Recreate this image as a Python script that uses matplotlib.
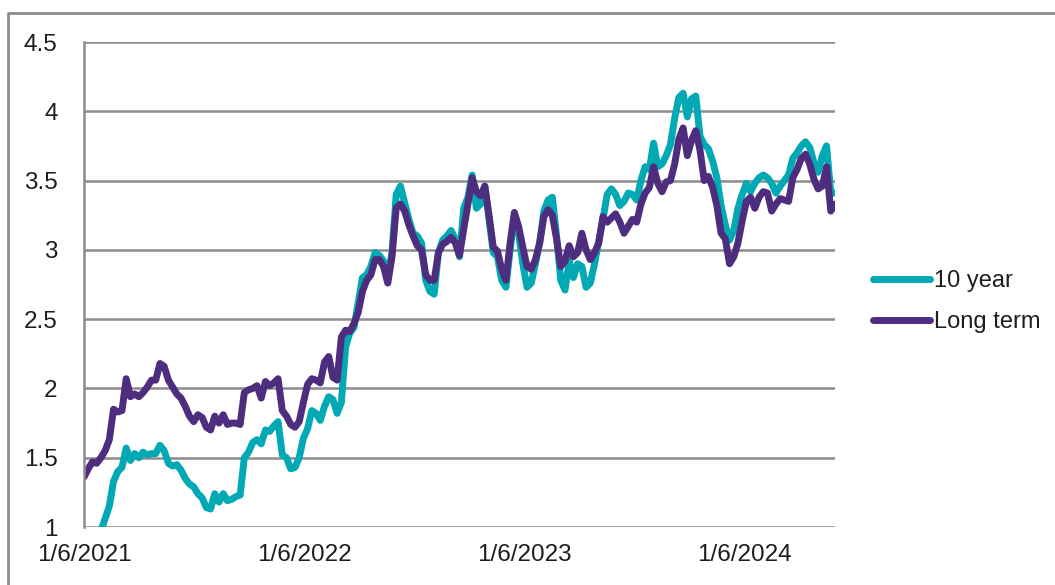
import pandas as pd
import matplotlib
matplotlib.use("Agg")
import matplotlib.pyplot as plt
from matplotlib.lines import Line2D

# weekly observations starting 6 Jan 2021
start_date = "2021-01-06"

ten_year = [
    0.72, 0.78, 0.85, 0.90, 0.97, 1.06, 1.15, 1.33, 1.40, 1.43,
    1.57, 1.48, 1.53, 1.50, 1.54, 1.52, 1.53, 1.53, 1.59, 1.55,
    1.46, 1.44, 1.45, 1.41, 1.35, 1.31, 1.29, 1.24, 1.21, 1.14,
    1.13, 1.24, 1.18, 1.24, 1.19, 1.20, 1.22, 1.23, 1.50, 1.54,
    1.61, 1.63, 1.60, 1.70, 1.69, 1.73, 1.76, 1.52, 1.50, 1.42,
    1.43, 1.50, 1.64, 1.71, 1.84, 1.82, 1.77, 1.87, 1.94, 1.92,
    1.82, 1.90, 2.30, 2.40, 2.44, 2.62, 2.80, 2.82, 2.88, 2.98,
    2.96, 2.92, 2.80, 2.98, 3.40, 3.46, 3.34, 3.22, 3.12, 3.10,
    3.05, 2.78, 2.70, 2.68, 2.98, 3.07, 3.10, 3.14, 3.08, 2.95,
    3.30, 3.38, 3.54, 3.30, 3.33, 3.46, 3.22, 2.98, 2.95, 2.78,
    2.73, 3.00, 3.25, 3.12, 2.90, 2.73, 2.76, 2.90, 3.05, 3.28,
    3.36, 3.38, 3.10, 2.78, 2.71, 2.92, 2.80, 2.90, 2.88, 2.73,
    2.76, 2.90, 3.06, 3.22, 3.40, 3.44, 3.40, 3.32, 3.35, 3.41,
    3.40, 3.36, 3.50, 3.60, 3.58, 3.77, 3.60, 3.62, 3.68, 3.76,
    3.95, 4.10, 4.13, 3.96, 4.09, 4.11, 3.82, 3.76, 3.73, 3.64,
    3.52, 3.32, 3.18, 3.07, 3.14, 3.30, 3.40, 3.48, 3.42, 3.48,
    3.52, 3.54, 3.52, 3.48, 3.41, 3.46, 3.50, 3.54, 3.66, 3.70,
    3.75, 3.78, 3.74, 3.63, 3.56, 3.68, 3.75, 3.41, 3.41,
]

long_term = [
    1.36, 1.42, 1.47, 1.46, 1.50, 1.55, 1.63, 1.85, 1.83, 1.84,
    2.07, 1.94, 1.96, 1.94, 1.97, 2.01, 2.06, 2.06, 2.18, 2.16,
    2.06, 2.01, 1.96, 1.93, 1.87, 1.80, 1.76, 1.81, 1.79, 1.72,
    1.70, 1.80, 1.75, 1.81, 1.74, 1.75, 1.75, 1.74, 1.97, 1.99,
    2.00, 2.02, 1.93, 2.05, 2.02, 2.04, 2.07, 1.84, 1.80, 1.74,
    1.72, 1.76, 1.90, 2.03, 2.07, 2.06, 2.04, 2.19, 2.23, 2.08,
    2.06, 2.37, 2.42, 2.41, 2.47, 2.55, 2.70, 2.78, 2.82, 2.93,
    2.93, 2.88, 2.76, 2.95, 3.30, 3.33, 3.28, 3.18, 3.10, 3.03,
    3.00, 2.82, 2.78, 2.78, 2.98, 3.04, 3.06, 3.09, 3.05, 2.96,
    3.15, 3.33, 3.52, 3.42, 3.39, 3.46, 3.25, 3.02, 2.99, 2.86,
    2.78, 3.05, 3.27, 3.17, 3.02, 2.88, 2.86, 2.93, 3.05, 3.24,
    3.29, 3.25, 3.08, 2.88, 2.92, 3.03, 2.95, 2.98, 3.12, 3.00,
    2.93, 2.98, 3.05, 3.24, 3.20, 3.23, 3.26, 3.20, 3.12, 3.17,
    3.22, 3.20, 3.33, 3.41, 3.45, 3.60, 3.48, 3.42, 3.49, 3.50,
    3.62, 3.80, 3.88, 3.68, 3.79, 3.86, 3.72, 3.50, 3.53, 3.45,
    3.32, 3.12, 3.08, 2.90, 2.95, 3.05, 3.21, 3.35, 3.38, 3.30,
    3.38, 3.42, 3.41, 3.28, 3.33, 3.37, 3.36, 3.35, 3.52, 3.58,
    3.66, 3.69, 3.62, 3.51, 3.44, 3.46, 3.60, 3.28, 3.33,
]

xtick_labels = ["1/6/2021", "1/6/2022", "1/6/2023", "1/6/2024"]
yticks = [1, 1.5, 2, 2.5, 3, 3.5, 4, 4.5]
ytick_labels = ["1", "1.5", "2", "2.5", "3", "3.5", "4", "4.5"]

teal = "#00A9B4"
purple = "#4E2D7F"
grid_grey = "#8C8C8C"
text_col = "#1E1E1E"

plt.rcParams["font.family"] = ["Liberation Sans", "DejaVu Sans"]

dates = pd.date_range(start_date, periods=len(ten_year), freq="7D")

fig = plt.figure(figsize=(10.55, 5.85), dpi=100)
ax = fig.add_axes([84 / 1055, 1 - 527 / 585, (835 - 84) / 1055, (527 - 42) / 585])

ax.plot(dates, ten_year, color=teal, lw=5, label="10 year",
        solid_joinstyle="round", solid_capstyle="round")
ax.plot(dates, long_term, color=purple, lw=5, label="Long term",
        solid_joinstyle="round", solid_capstyle="round")

ax.set_ylim(1, 4.5)
ax.set_xlim(pd.Timestamp(start_date), dates[-1])
ax.set_yticks(yticks)
ax.set_yticklabels(ytick_labels)
ax.set_xticks(pd.to_datetime(xtick_labels, format="%m/%d/%Y"))
ax.set_xticklabels(xtick_labels)

ax.grid(axis="y", color=grid_grey, lw=1.8)
ax.set_axisbelow(True)
for side in ["top", "right", "bottom"]:
    ax.spines[side].set_visible(False)
ax.spines["left"].set_color(grid_grey)
ax.spines["left"].set_linewidth(1.8)
ax.tick_params(axis="both", length=0, labelsize=17.5, colors=text_col)
ax.tick_params(axis="y", pad=19)
ax.tick_params(axis="x", pad=12)

ax.legend(loc="center left", bbox_to_anchor=(873 / 1055, 1 - 301.5 / 585),
          bbox_transform=fig.transFigure, frameon=False, fontsize=17,
          borderaxespad=0, borderpad=0, handlelength=2.4, handletextpad=0.2,
          labelspacing=0.8, labelcolor=text_col)

# outer frame (top and left edges visible)
fig.add_artist(Line2D([8 / 1055, 8 / 1055, 1.0], [0.0, 1 - 13 / 585, 1 - 13 / 585],
                      transform=fig.transFigure, color=grid_grey, lw=2))

fig.savefig("out.png", dpi=100)
